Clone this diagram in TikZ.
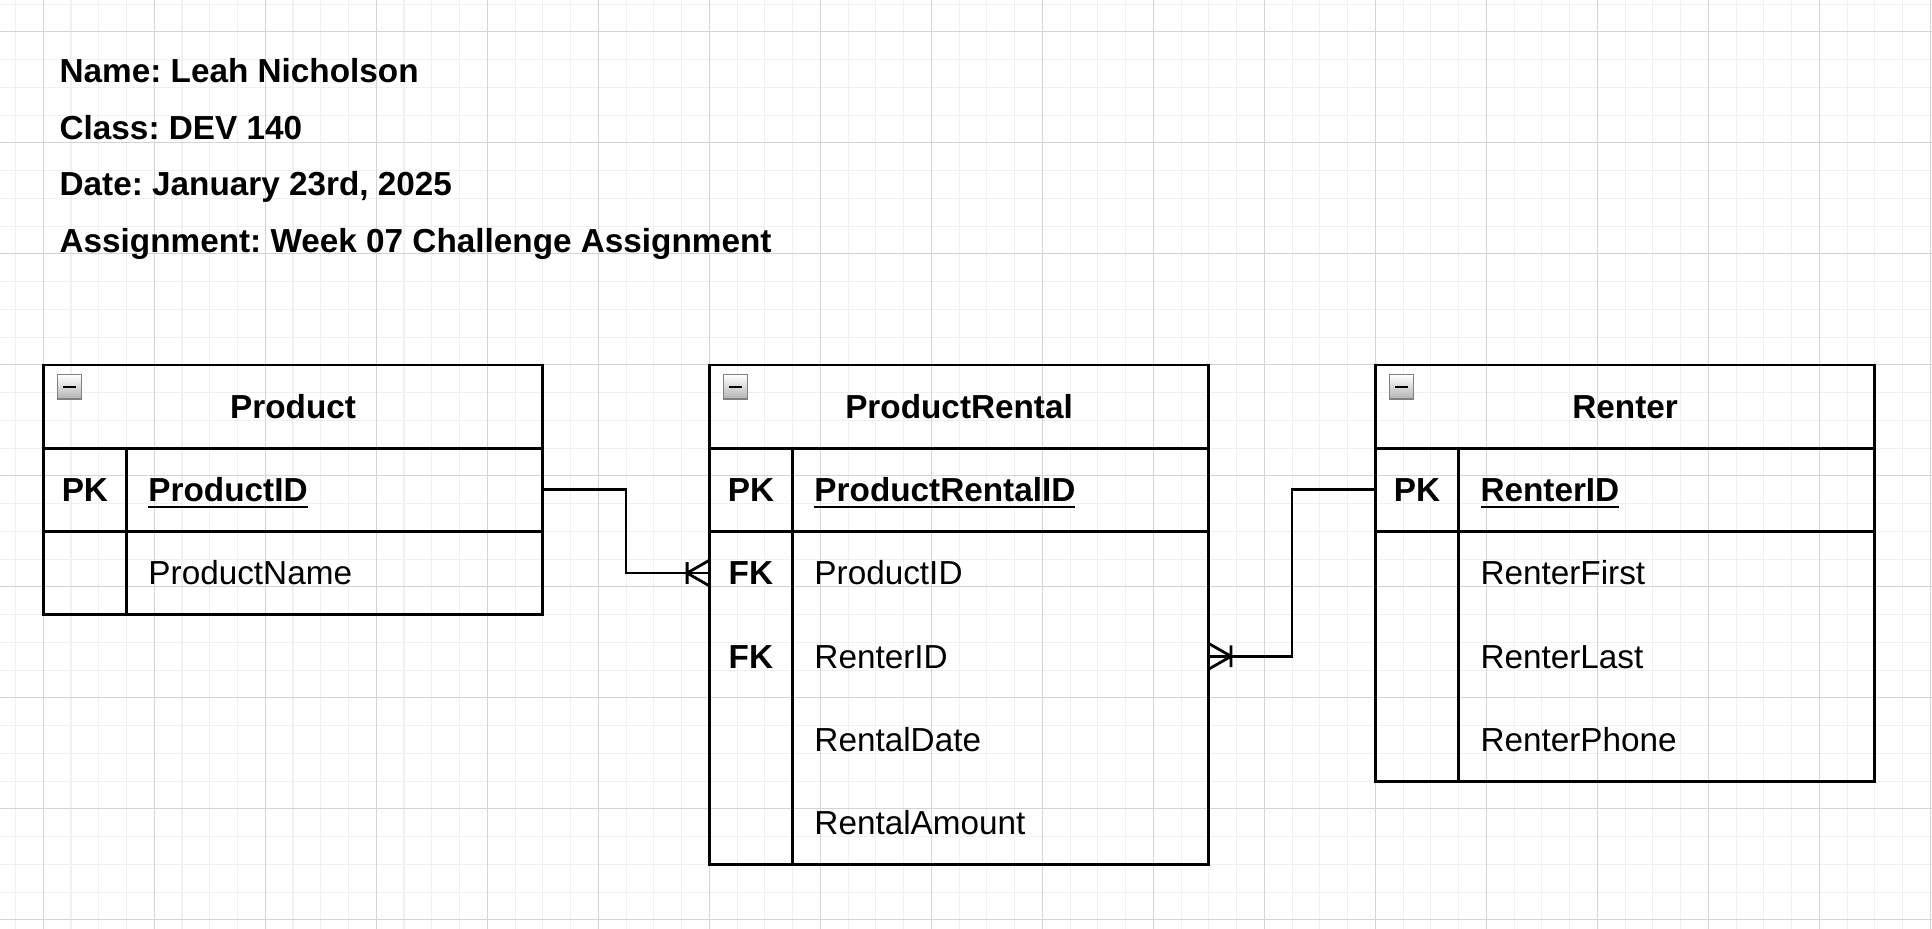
\documentclass[tikz,border=0pt]{standalone}
\usepackage{fontspec}
\setmainfont{Liberation Sans}
\usetikzlibrary{positioning,arrows.meta}

\definecolor{gridminor}{RGB}{240,240,240}
\definecolor{gridmajor}{RGB}{212,212,212}

\newcommand{\erfont}{\fontsize{12pt}{14pt}\selectfont}
\newcommand{\pkname}[1]{\setbox0=\hbox{#1}\rlap{\rule[-2.3pt]{\wd0}{0.8pt}}\box0}
\frenchspacing

% crow's foot with bar (one-to-many)
\pgfdeclarearrow{
  name = ERmany,
  setup code = {
    \pgfarrowssettipend{0pt}
    \pgfarrowssetlineend{0pt}
    \pgfarrowssetbackend{-8pt}
    \pgfarrowssetvisualbackend{-8pt}
    \pgfarrowshullpoint{0pt}{4.6pt}
    \pgfarrowshullpoint{0pt}{-4.6pt}
    \pgfarrowshullpoint{-8pt}{4pt}
    \pgfarrowshullpoint{-8pt}{-4pt}
  },
  drawing code = {
    \pgfpathmoveto{\pgfqpoint{0pt}{4.6pt}}
    \pgfpathlineto{\pgfqpoint{-8pt}{0pt}}
    \pgfpathlineto{\pgfqpoint{0pt}{-4.6pt}}
    \pgfpathmoveto{\pgfqpoint{-8pt}{3.9pt}}
    \pgfpathlineto{\pgfqpoint{-8pt}{-3.9pt}}
    \pgfusepathqstroke
  }
}

\begin{document}
\begin{tikzpicture}[
    x=1pt, y=1pt,
    font=\erfont,
    % ---- styles -------------------------------------------------
    title/.style={
        minimum width=180pt, minimum height=30pt, inner sep=0pt, outer sep=0pt,
        text height=8.6pt, text depth=0pt, font=\erfont\bfseries},
    rowbox/.style={minimum width=180pt, minimum height=30pt, inner sep=0pt, outer sep=0pt},
    key/.style={inner sep=0pt, text height=8.6pt, text depth=0pt, font=\erfont\bfseries},
    attr/.style={inner sep=0pt, text height=8.6pt, text depth=0pt, anchor=west},
    info/.style={attr, font=\erfont\bfseries},
    frame/.style={draw=black, line width=1pt},
    icon/.style={
        draw=black!50, top color=white, bottom color=black!30,
        minimum size=8.7pt, inner sep=0pt, outer sep=0pt, anchor=north west},
    rel/.style={draw=black, line width=1pt, -{ERmany}},
]

% =================== page + grid ==============================
\useasboundingbox (-15.6,-203.2) rectangle (680.6,131.5);
\fill[white] (-15.6,-203.2) rectangle (680.6,131.5);
\draw[gridminor, line width=0.4pt] (-15.6,-203.2) grid[step=10pt] (680.6,131.5);
\draw[gridmajor, line width=0.4pt] (-15.6,-203.2) grid[step=40pt] (680.6,131.5);

% =================== header text ==============================
\node[info] (nameTxt) at (5.7,106) {Name: Leah Nicholson};
\node[info, below=11.4pt of nameTxt.south west, anchor=north west] (classTxt) {Class: DEV 140};
\node[info, below=11.4pt of classTxt.south west, anchor=north west] (dateTxt) {Date: January 23rd, 2025};
\node[info, below=11.4pt of dateTxt.south west, anchor=north west] (taskTxt) {Assignment: Week 07 Challenge Assignment};

% =================== PRODUCT ==================================
\node[title] (prodHead) at (90,-15) {Product};
\node[rowbox, below=0pt of prodHead] (prodR1) {};
\node[rowbox, below=0pt of prodR1]   (prodR2) {};
\node[icon] (prodIcon) at ([shift={(5pt,-3.6pt)}]prodHead.north west) {\rule[-0.5pt]{4.8pt}{1pt}};
\node[key]  (prodK1) at ([xshift=15pt]prodR1.west) {PK};
\node[attr] (prodA1) at ([xshift=37.7pt]prodR1.west) {\textbf{\pkname{ProductID}}};
\node[attr] (prodA2) at ([xshift=37.7pt]prodR2.west) {ProductName};
\draw[frame] (prodHead.north west) rectangle (prodR2.south east);
\draw[frame] (prodHead.south west) -- (prodHead.south east);
\draw[frame] (prodR1.south west) -- (prodR1.south east);
\draw[frame] ([xshift=30pt]prodR1.north west) -- ([xshift=30pt]prodR2.south west);

% =================== PRODUCTRENTAL ============================
\node[title, right=60pt of prodHead] (rentalHead) {ProductRental};
\node[rowbox, below=0pt of rentalHead] (rentalR1) {};
\node[rowbox, below=0pt of rentalR1]   (rentalR2) {};
\node[rowbox, below=0pt of rentalR2]   (rentalR3) {};
\node[rowbox, below=0pt of rentalR3]   (rentalR4) {};
\node[rowbox, below=0pt of rentalR4]   (rentalR5) {};
\node[icon] (rentalIcon) at ([shift={(5pt,-3.6pt)}]rentalHead.north west) {\rule[-0.5pt]{4.8pt}{1pt}};
\node[key]  (rentalK1) at ([xshift=15pt]rentalR1.west) {PK};
\node[key]  (rentalK2) at ([xshift=15pt]rentalR2.west) {FK};
\node[key]  (rentalK3) at ([xshift=15pt]rentalR3.west) {FK};
\node[attr] (rentalA1) at ([xshift=37.7pt]rentalR1.west) {\textbf{\pkname{ProductRentalID}}};
\node[attr] (rentalA2) at ([xshift=37.7pt]rentalR2.west) {ProductID};
\node[attr] (rentalA3) at ([xshift=37.7pt]rentalR3.west) {RenterID};
\node[attr] (rentalA4) at ([xshift=37.7pt]rentalR4.west) {RentalDate};
\node[attr] (rentalA5) at ([xshift=37.7pt]rentalR5.west) {RentalAmount};
\draw[frame] (rentalHead.north west) rectangle (rentalR5.south east);
\draw[frame] (rentalHead.south west) -- (rentalHead.south east);
\draw[frame] (rentalR1.south west) -- (rentalR1.south east);
\draw[frame] ([xshift=30pt]rentalR1.north west) -- ([xshift=30pt]rentalR5.south west);

% =================== RENTER ===================================
\node[title, right=60pt of rentalHead] (renterHead) {Renter};
\node[rowbox, below=0pt of renterHead] (renterR1) {};
\node[rowbox, below=0pt of renterR1]   (renterR2) {};
\node[rowbox, below=0pt of renterR2]   (renterR3) {};
\node[rowbox, below=0pt of renterR3]   (renterR4) {};
\node[icon] (renterIcon) at ([shift={(5pt,-3.6pt)}]renterHead.north west) {\rule[-0.5pt]{4.8pt}{1pt}};
\node[key]  (renterK1) at ([xshift=15pt]renterR1.west) {PK};
\node[attr] (renterA1) at ([xshift=37.7pt]renterR1.west) {\textbf{\pkname{RenterID}}};
\node[attr] (renterA2) at ([xshift=37.7pt]renterR2.west) {RenterFirst};
\node[attr] (renterA3) at ([xshift=37.7pt]renterR3.west) {RenterLast};
\node[attr] (renterA4) at ([xshift=37.7pt]renterR4.west) {RenterPhone};
\draw[frame] (renterHead.north west) rectangle (renterR4.south east);
\draw[frame] (renterHead.south west) -- (renterHead.south east);
\draw[frame] (renterR1.south west) -- (renterR1.south east);
\draw[frame] ([xshift=30pt]renterR1.north west) -- ([xshift=30pt]renterR4.south west);

% =================== relationships ============================
\draw[rel] (prodR1.east) -- ++(30,0) |- (rentalR2.west);
\draw[rel] (renterR1.west) -- ++(-30,0) |- (rentalR3.east);

\end{tikzpicture}
\end{document}
